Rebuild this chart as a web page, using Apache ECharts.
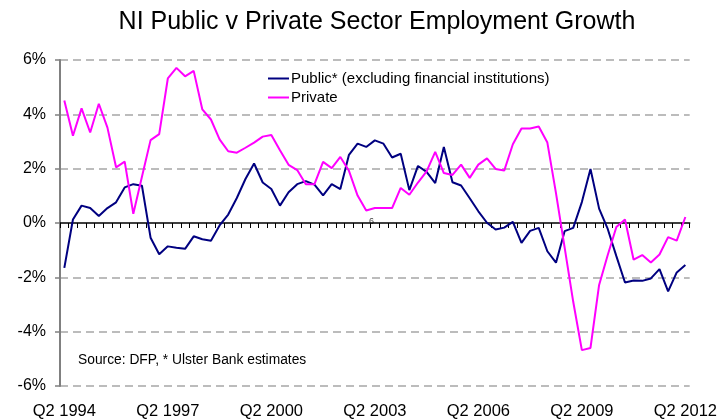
<!DOCTYPE html>
<html>
<head>
<meta charset="utf-8">
<title>NI Public v Private Sector Employment Growth</title>
<script src="https://cdn.jsdelivr.net/npm/echarts@6/dist/echarts.min.js"></script>
<style>
  html, body { margin: 0; padding: 0; background: #fff; }
  #chart { width: 720px; height: 420px; }
</style>
</head>
<body>
<div id="chart"></div>
<script>
// Quarterly, year-on-year employment growth (%), Q2 1994 to Q2 2012
var quarters = [
  'Q2 1994','Q3 1994','Q4 1994','Q1 1995','Q2 1995','Q3 1995','Q4 1995','Q1 1996',
  'Q2 1996','Q3 1996','Q4 1996','Q1 1997','Q2 1997','Q3 1997','Q4 1997','Q1 1998',
  'Q2 1998','Q3 1998','Q4 1998','Q1 1999','Q2 1999','Q3 1999','Q4 1999','Q1 2000',
  'Q2 2000','Q3 2000','Q4 2000','Q1 2001','Q2 2001','Q3 2001','Q4 2001','Q1 2002',
  'Q2 2002','Q3 2002','Q4 2002','Q1 2003','Q2 2003','Q3 2003','Q4 2003','Q1 2004',
  'Q2 2004','Q3 2004','Q4 2004','Q1 2005','Q2 2005','Q3 2005','Q4 2005','Q1 2006',
  'Q2 2006','Q3 2006','Q4 2006','Q1 2007','Q2 2007','Q3 2007','Q4 2007','Q1 2008',
  'Q2 2008','Q3 2008','Q4 2008','Q1 2009','Q2 2009','Q3 2009','Q4 2009','Q1 2010',
  'Q2 2010','Q3 2010','Q4 2010','Q1 2011','Q2 2011','Q3 2011','Q4 2011','Q1 2012',
  'Q2 2012'
];

var publicGrowth = [
  -1.65, 0.13, 0.64, 0.55, 0.26, 0.55, 0.76, 1.31,
   1.43, 1.37, -0.54, -1.15, -0.86, -0.91, -0.95, -0.49,
  -0.60, -0.65, -0.09, 0.31, 0.92, 1.62, 2.19, 1.49,
   1.25, 0.64, 1.13, 1.43, 1.54, 1.41, 1.02, 1.43,
   1.25, 2.51, 2.92, 2.80, 3.04, 2.92, 2.41, 2.55,
   1.21, 2.10, 1.88, 1.47, 2.80, 1.50, 1.38, 0.91,
   0.43, 0.01, -0.24, -0.17, 0.04, -0.73, -0.29, -0.18,
  -1.04, -1.46, -0.30, -0.18, 0.77, 1.99, 0.53, -0.22,
  -1.22, -2.19, -2.12, -2.13, -2.04, -1.70, -2.52, -1.82,
  -1.55
];

var privateGrowth = [
   4.51, 3.21, 4.22, 3.33, 4.39, 3.51, 2.05, 2.26,
   0.34, 1.70, 3.05, 3.27, 5.32, 5.71, 5.40, 5.60,
   4.18, 3.81, 3.08, 2.64, 2.59, 2.77, 2.96, 3.18,
   3.24, 2.68, 2.14, 1.95, 1.43, 1.43, 2.25, 2.02,
   2.43, 1.92, 1.01, 0.46, 0.55, 0.55, 0.55, 1.29,
   1.04, 1.49, 1.90, 2.62, 1.84, 1.77, 2.15, 1.66,
   2.15, 2.38, 1.99, 1.93, 2.90, 3.48, 3.48, 3.55,
   2.96, 1.10, -0.90, -2.90, -4.68, -4.60, -2.28, -1.18,
  -0.15, 0.13, -1.35, -1.18, -1.45, -1.16, -0.52, -0.65,
   0.22
];

var seriesNames = ['Public* (excluding financial institutions)', 'Private'];
var yTicks = { min: -6, max: 6, step: 2 };

var FONT = '"Liberation Sans", Arial, Helvetica, sans-serif';

var chart = echarts.init(document.getElementById('chart'), null, { renderer: 'canvas' });

chart.setOption({
  animation: false,
  backgroundColor: '#ffffff',
  textStyle: { fontFamily: FONT, color: '#000' },
  title: {
    text: 'NI Public v Private Sector Employment Growth',
    left: 372,
    top: 5,
    textAlign: 'center',
    textStyle: { fontFamily: FONT, fontSize: 25, fontWeight: 'normal', color: '#000' }
  },
  legend: {
    orient: 'vertical',
    left: 263,
    top: 66,
    itemWidth: 21,
    itemHeight: 2,
    itemGap: 4,
    icon: 'rect',
    textStyle: { fontFamily: FONT, fontSize: 15, color: '#000', padding: [0, 0, 0, -3] },
    data: seriesNames
  },
  grid: { left: 60, right: 28, top: 60, bottom: 32, containLabel: false },
  xAxis: [
    {
      // line through 0% with a tick between every quarter
      type: 'category',
      data: quarters,
      boundaryGap: true,
      position: 'bottom',
      axisLine: { show: true, onZero: true, lineStyle: { color: '#000', width: 1.5 } },
      axisTick: { show: true, interval: 0, length: 5, lineStyle: { color: '#000', width: 1 } },
      axisLabel: { show: false },
      splitLine: { show: false }
    },
    {
      // year labels along the bottom edge
      type: 'category',
      data: quarters,
      boundaryGap: true,
      position: 'bottom',
      axisLine: { show: false, onZero: false },
      axisTick: { show: false },
      axisLabel: {
        show: true,
        interval: 11,
        margin: 17,
        fontFamily: FONT,
        fontSize: 16.5,
        color: '#000'
      },
      splitLine: { show: false }
    }
  ],
  yAxis: {
    type: 'value',
    min: yTicks.min,
    max: yTicks.max,
    interval: yTicks.step,
    axisLine: { show: true, lineStyle: { color: '#808080', width: 2 } },
    axisTick: { show: true, length: 5, lineStyle: { color: '#808080', width: 1.5 } },
    axisLabel: {
      margin: 14,
      fontFamily: FONT,
      fontSize: 16,
      color: '#000',
      formatter: function (v) { return v + '%'; }
    },
    splitLine: {
      show: true,
      lineStyle: {
        // no dashed line at 0%, the category axis sits there
        color: ['#a6a6a6', '#a6a6a6', '#a6a6a6', 'rgba(0,0,0,0)', '#a6a6a6', '#a6a6a6', '#a6a6a6'],
        width: 1.5,
        type: [8, 5]
      }
    }
  },
  graphic: [
    {
      type: 'text',
      left: 78,
      top: 353,
      style: {
        text: 'Source: DFP, * Ulster Bank estimates',
        font: '13.8px ' + FONT,
        fill: '#000'
      }
    },
    {
      type: 'text',
      left: 369,
      top: 217,
      style: {
        text: '6',
        font: '9px ' + FONT,
        fill: '#444'
      }
    }
  ],
  series: [
    {
      name: seriesNames[0],
      type: 'line',
      xAxisIndex: 0,
      data: publicGrowth,
      showSymbol: false,
      symbol: 'none',
      lineStyle: { color: '#000080', width: 2 },
      itemStyle: { color: '#000080' }
    },
    {
      name: seriesNames[1],
      type: 'line',
      xAxisIndex: 0,
      data: privateGrowth,
      showSymbol: false,
      symbol: 'none',
      lineStyle: { color: '#ff00ff', width: 2 },
      itemStyle: { color: '#ff00ff' }
    }
  ]
});
</script>
</body>
</html>
